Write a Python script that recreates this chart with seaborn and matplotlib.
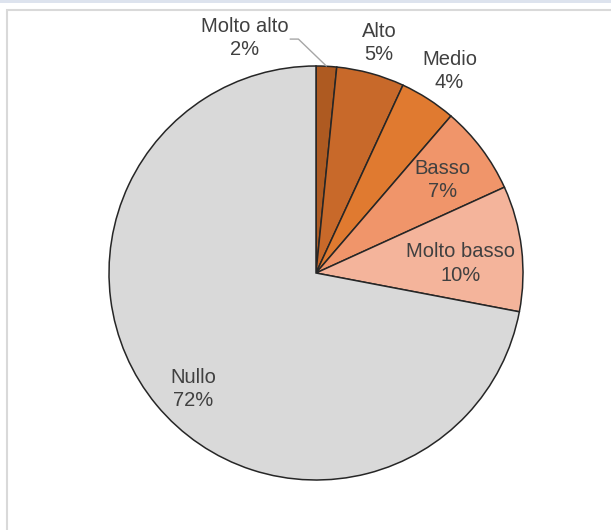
import numpy as np
import matplotlib
matplotlib.use('Agg')
import matplotlib.pyplot as plt
from matplotlib.patches import Rectangle
from matplotlib.lines import Line2D
import seaborn as sns

sns.set_style(style='white')
plt.rcParams['font.family'] = ['Liberation Sans', 'DejaVu Sans']

# data (clockwise from 12 o'clock)
categories = ['Molto alto', 'Alto', 'Medio', 'Basso', 'Molto basso', 'Nullo']
shares = [1.6, 5.3, 4.4, 6.9, 9.8, 72.0]
pct_labels = ['2%', '5%', '4%', '7%', '10%', '72%']
colors = ['#AE5A21', '#C8692A', '#E07A30', '#F0956A', '#F4B49B', '#D9D9D9']

# label anchors in pie units (radius = 1)
label_pos = [(-0.345, 1.135), (0.305, 1.11), (0.645, 0.975),
             (0.61, 0.45), (0.70, 0.045), (-0.595, -0.56)]

W, H = 611, 530
fig = plt.figure(figsize=(W / 100, H / 100), dpi=100)

# outer frame of the chart area
fig.patches.append(Rectangle((0, 1 - 3 / H), 1, 3 / H, transform=fig.transFigure,
                             facecolor='#DDE3EE', edgecolor='none', zorder=-10))
fig.patches.append(Rectangle((7 / W, -0.1), 1.1, 1 - 10 / H + 0.1, transform=fig.transFigure,
                             facecolor='white', edgecolor='#D9D9D9', linewidth=1.5,
                             zorder=-10))

cx, cy, r = 316, 273, 207
ax = fig.add_axes([(cx - r) / W, (H - cy - r) / H, 2 * r / W, 2 * r / H])
ax.patch.set_alpha(0)
ax.pie(shares, colors=colors, startangle=90, counterclock=False, radius=1,
       wedgeprops=dict(edgecolor='#262626', linewidth=1.1))
ax.set_xlim(-1, 1)
ax.set_ylim(-1, 1)
ax.axis('off')

for (x, y), cat, pct in zip(label_pos, categories, pct_labels):
    ax.text(x, y, f'{cat}\n{pct}', ha='center', va='center', color='#404040',
            fontsize=14.5, linespacing=1.3, clip_on=False)

# leader line for the small slice
ax.add_line(Line2D([-0.125, -0.085, 0.05], [1.13, 1.13, 1.0], color='#A6A6A6',
                   linewidth=1.0, clip_on=False))

fig.savefig('out.png', dpi=100)
